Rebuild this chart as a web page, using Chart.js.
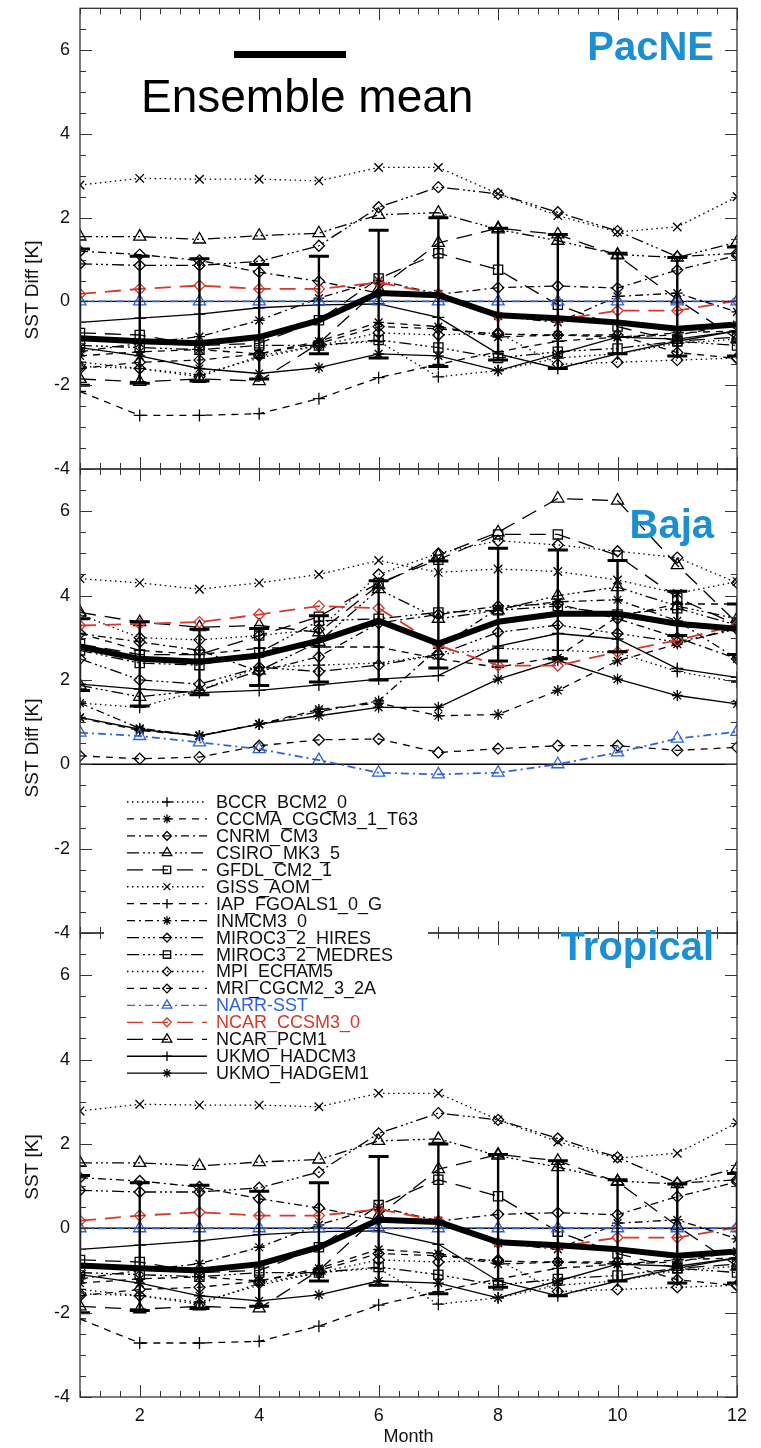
<!DOCTYPE html>
<html><head><meta charset="utf-8">
<script src="https://cdn.jsdelivr.net/npm/chart.js@4/dist/chart.umd.min.js"></script>
<style>
html,body{margin:0;padding:0;background:#fff;}
#wrap{position:relative;width:761px;height:1448px;overflow:hidden;}
canvas{position:absolute;left:0;top:0;}
</style></head><body>
<div id="wrap">
<canvas id="c1" width="761" height="1448"></canvas>
<canvas id="c2" width="761" height="1448"></canvas>
<canvas id="c3" width="761" height="1448"></canvas>
</div>
<script>
// ---------- data ----------
const months = [1,2,3,4,5,6,7,8,9,10,11,12];
const xTickVals = [2,4,6,8,10,12];
const yTickVals = [-4,-2,0,2,4,6];
const modelNames = ['BCCR_BCM2_0','CCCMA_CGCM3_1_T63','CNRM_CM3','CSIRO_MK3_5','GFDL_CM2_1','GISS_AOM',
  'IAP_FGOALS1_0_G','INMCM3_0','MIROC3_2_HIRES','MIROC3_2_MEDRES','MPI_ECHAM5','MRI_CGCM2_3_2A',
  'NARR-SST','NCAR_CCSM3_0','NCAR_PCM1','UKMO_HADCM3','UKMO_HADGEM1'];

// PacNE (also drawn in the Tropical panel, which shows the same curves)
const pacBCCR   = [-1.45,-1.6,-1.75,-1.35,-1.05,-0.95,-1.8,-1.65,-1.35,-1.25,-1.0,-0.9];
const pacCCCMA  = [-1.3,-1.2,-1.15,-1.25,-0.95,-0.5,-0.6,-0.85,-0.8,-0.85,-0.8,-0.55];
const pacCNRM   = [1.2,1.12,0.98,0.7,0.48,0.2,0.17,0.33,0.37,0.32,0.75,1.1];
const pacCSIRO  = [1.55,1.55,1.48,1.57,1.63,2.07,2.12,1.72,1.45,1.12,1.05,1.42];
const pacGFDL   = [-0.75,-0.8,-1.05,-1.0,-0.45,0.55,1.15,0.76,-0.08,-0.6,-0.95,-0.85];
const pacGISS   = [2.78,2.94,2.92,2.92,2.88,3.2,3.2,2.57,2.05,1.66,1.78,2.5];
const pacIAP    = [-2.15,-2.72,-2.72,-2.68,-2.32,-1.82,-1.5,-1.2,-0.95,-0.85,-0.75,-0.7];
const pacINMCM  = [-1.2,-1.0,-0.84,-0.45,0.08,0.5,0.18,-0.35,-0.5,0.12,0.2,-0.25];
const pacMIROCH = [0.9,0.86,0.86,0.96,1.33,2.25,2.73,2.57,2.13,1.68,1.07,1.15];
const pacMIROCM = [-1.05,-1.1,-1.15,-1.05,-1.05,-0.92,-1.1,-1.35,-1.2,-1.12,-0.95,-1.05];
const pacMPI    = [-1.55,-1.6,-1.8,-1.3,-1.05,-0.75,-0.8,-0.75,-1.5,-1.45,-1.4,-1.35];
const pacMRI    = [-1.6,-1.45,-1.4,-1.25,-1.0,-0.6,-0.65,-0.78,-0.8,-0.8,-1.22,-1.36];
const pacNARR   = [0,0,0,0,0,0,0,0,0,0,0,0];
const pacCCSM   = [0.18,0.3,0.38,0.3,0.3,0.45,0.18,-0.35,-0.44,-0.22,-0.22,0.02];
const pacPCM    = [-1.85,-1.92,-1.85,-1.9,-1.0,0.3,1.4,1.75,1.6,1.1,0.05,-0.9];
const pacHADCM3 = [-0.5,-0.4,-0.3,-0.15,-0.08,-0.06,-0.38,-1.25,-1.6,-1.25,-0.95,-0.7];
const pacHADGEM = [-1.1,-1.3,-1.6,-1.72,-1.58,-1.25,-1.3,-1.65,-1.25,-0.85,-0.9,-0.7];
const pacMean   = [-0.88,-0.95,-1.0,-0.85,-0.45,0.2,0.15,-0.33,-0.4,-0.5,-0.65,-0.55];
const pacUpper  = [1.25,1.08,1.02,0.88,1.08,1.7,2.0,1.75,1.6,1.15,1.05,1.3];
const pacLower  = [-2.0,-1.95,-1.9,-1.85,-1.25,-1.35,-1.55,-1.4,-1.6,-1.25,-1.3,-1.3];

// Baja
const bajBCCR   = [1.45,1.35,1.75,2.3,2.35,2.4,2.6,2.75,2.7,2.65,2.2,1.95];
const bajCCCMA  = [1.1,0.8,0.68,0.95,1.3,1.45,1.15,1.18,1.75,2.45,2.85,3.25];
const bajCNRM   = [3.1,2.9,2.7,2.2,2.55,3.35,3.55,3.75,3.8,3.45,3.0,2.5];
const bajCSIRO  = [1.87,1.6,1.75,2.22,2.9,4.15,3.45,3.65,4.0,4.2,3.75,3.45];
const bajGFDL   = [2.85,2.6,2.6,3.05,3.5,4.3,4.85,5.45,5.45,4.95,3.95,3.3];
const bajGISS   = [4.4,4.3,4.15,4.3,4.5,4.83,4.55,4.63,4.57,4.37,4.05,4.33];
const bajIAP    = [3.1,2.7,2.6,2.75,2.78,2.78,2.5,2.3,2.55,3.5,3.8,3.8];
const bajINMCM  = [1.45,0.85,0.68,0.95,1.25,1.5,2.75,3.7,3.85,3.9,3.4,2.5];
const bajMIROCH = [2.5,2.0,1.9,2.3,2.2,2.35,2.6,3.13,3.3,3.1,2.9,3.2];
const bajMIROCM = [2.7,2.4,2.35,2.65,3.4,3.45,3.6,3.65,3.75,3.55,3.7,3.3];
const bajMPI    = [3.55,3.0,2.95,3.05,3.2,4.5,5.0,5.3,5.2,5.05,4.9,4.3];
const bajMRI    = [0.2,0.13,0.17,0.44,0.58,0.6,0.28,0.37,0.44,0.44,0.33,0.4];
const bajNARR   = [0.75,0.67,0.52,0.36,0.1,-0.2,-0.24,-0.2,0.0,0.28,0.61,0.77];
const bajCCSM   = [3.29,3.33,3.37,3.55,3.75,3.7,2.82,2.34,2.34,2.66,2.94,3.3];
const bajPCM    = [3.6,3.37,3.25,3.29,3.13,4.25,4.95,5.5,6.3,6.25,4.72,3.35];
const bajHADCM3 = [1.9,1.78,1.7,1.75,1.88,2.02,2.1,2.8,3.1,2.97,2.27,2.06];
const bajHADGEM = [1.11,0.83,0.67,0.95,1.15,1.35,1.35,2.02,2.46,2.02,1.63,1.43];
const bajMean   = [2.79,2.5,2.43,2.58,2.93,3.4,2.86,3.38,3.57,3.57,3.33,3.21];
const bajUpper  = [3.45,3.38,3.2,3.22,3.52,4.35,4.82,5.12,5.08,4.83,4.1,3.8];
const bajLower  = [1.75,1.38,1.65,1.87,1.95,2.0,2.28,2.45,2.5,2.67,3.05,2.6];

const pacSeries = [pacBCCR,pacCCCMA,pacCNRM,pacCSIRO,pacGFDL,pacGISS,pacIAP,pacINMCM,pacMIROCH,pacMIROCM,pacMPI,pacMRI,pacNARR,pacCCSM,pacPCM,pacHADCM3,pacHADGEM];
const bajSeries = [bajBCCR,bajCCCMA,bajCNRM,bajCSIRO,bajGFDL,bajGISS,bajIAP,bajINMCM,bajMIROCH,bajMIROCM,bajMPI,bajMRI,bajNARR,bajCCSM,bajPCM,bajHADCM3,bajHADGEM];

// ---------- styles ----------
const FONT = "'Liberation Sans', Arial, Helvetica, sans-serif";
const BLUE = '#2f62d8', RED = '#d8372c', LABEL_BLUE = '#1b8fd2';
const DOT = [1.5,3.5], DASH = [7,6], DASHDOT = [8,4,2,4], DASH3 = [12,4,2,3,2,3,2,4], LONG = [16,9], SOLID = [];
const R = {cross:6, star:5.5, rectRot:5.5, triangle:7, rect:6.5, crossRot:6};
const modelStyles = [
  {dash:DOT, pt:'cross'}, {dash:DASH, pt:'star'}, {dash:DASHDOT, pt:'rectRot'}, {dash:DASH3, pt:'triangle'},
  {dash:LONG, pt:'rect'}, {dash:DOT, pt:'crossRot'}, {dash:DASH, pt:'cross'}, {dash:DASHDOT, pt:'star'},
  {dash:DASH3, pt:'rectRot'}, {dash:DASH3, pt:'rect'}, {dash:DOT, pt:'rectRot'}, {dash:DASH, pt:'rectRot'},
  {dash:DASHDOT, pt:'triangle', color:BLUE}, {dash:LONG, pt:'rectRot', color:RED}, {dash:LONG, pt:'triangle'},
  {dash:SOLID, pt:'cross'}, {dash:SOLID, pt:'star'}
];

function marker(ctx, style, r, x, y) {
  if (Chart.helpers && Chart.helpers.drawPoint) {
    Chart.helpers.drawPoint(ctx, {pointStyle: style, radius: r, rotation: 0, borderWidth: 1.3}, x, y);
  }
}

const decor = {
  id: 'decor',
  beforeDatasetsDraw(chart, args, o) {
    const {ctx, chartArea: a, scales: {y}} = chart;
    const py = y.getPixelForValue(0);
    ctx.save(); ctx.strokeStyle = '#000'; ctx.lineWidth = 1.3; ctx.setLineDash([]);
    ctx.beginPath(); ctx.moveTo(a.left, py); ctx.lineTo(a.right, py); ctx.stroke(); ctx.restore();
  },
  afterDatasetsDraw(chart, args, o) {
    const {ctx, chartArea: a, scales: {x, y}} = chart;
    ctx.save();
    ctx.beginPath(); ctx.rect(a.left, a.top, a.right - a.left, a.bottom - a.top); ctx.clip();
    ctx.strokeStyle = '#000'; ctx.setLineDash([]);
    months.forEach((m, j) => {
      const px = x.getPixelForValue(m), pu = y.getPixelForValue(o.upper[j]), pl = y.getPixelForValue(o.lower[j]);
      ctx.lineWidth = 2.4; ctx.beginPath(); ctx.moveTo(px, pu); ctx.lineTo(px, pl); ctx.stroke();
      ctx.lineWidth = 3; ctx.beginPath();
      ctx.moveTo(px - 10, pu); ctx.lineTo(px + 10, pu); ctx.moveTo(px - 10, pl); ctx.lineTo(px + 10, pl); ctx.stroke();
    });
    ctx.restore();
  },
  afterDraw(chart, args, o) {
    const {ctx, chartArea: a, scales: {x, y}} = chart;
    ctx.save();
    ctx.setLineDash([]);
    ctx.strokeStyle = '#333'; ctx.lineWidth = 1.3;
    ctx.strokeRect(a.left, a.top, a.right - a.left, a.bottom - a.top);
    ctx.lineWidth = 1;
    ctx.beginPath();
    for (let k = 0; k <= 22; k++) {
      const v = y.min + k * 0.5;
      const py = Math.round(y.getPixelForValue(v)) + 0.5;
      const L = (yTickVals.includes(v)) ? 12 : 6;
      ctx.moveTo(a.left, py); ctx.lineTo(a.left + L, py);
      ctx.moveTo(a.right, py); ctx.lineTo(a.right - L, py);
    }
    for (let k = 0; k <= 33; k++) {
      const v = 1 + k / 3;
      const px = Math.round(x.getPixelForValue(v)) + 0.5;
      const L = (k % 3 === 0 && xTickVals.includes(Math.round(v))) ? 12 : 6;
      ctx.moveTo(px, a.top); ctx.lineTo(px, a.top + L);
      ctx.moveTo(px, a.bottom); ctx.lineTo(px, a.bottom - L);
    }
    ctx.stroke();
    // y title
    ctx.fillStyle = '#111';
    ctx.font = '19px ' + FONT;
    ctx.textAlign = 'center'; ctx.textBaseline = 'middle';
    ctx.save(); ctx.translate(33, o.titleY); ctx.rotate(-Math.PI / 2); ctx.fillText(o.yTitle, 0, 0); ctx.restore();
    // panel name
    ctx.fillStyle = LABEL_BLUE; ctx.font = 'bold 40px ' + FONT;
    ctx.textAlign = 'right'; ctx.textBaseline = 'alphabetic';
    ctx.fillText(o.name, 714, o.nameY);
    if (o.ensemble) {
      ctx.fillStyle = '#000';
      ctx.fillRect(234, 51, 112, 7);
      ctx.font = '46px ' + FONT; ctx.textAlign = 'left';
      ctx.fillText('Ensemble mean', 141, 112);
    }
    if (o.legend) {
      ctx.fillStyle = '#fff';
      ctx.fillRect(104, 786, 324, 292);
      modelNames.forEach((name, i) => {
        const st = modelStyles[i];
        const col = st.color || '#000';
        const ly = 802 + i * 16.95;
        ctx.strokeStyle = col; ctx.lineWidth = 1.3;
        ctx.setLineDash(st.dash);
        ctx.beginPath(); ctx.moveTo(127, ly); ctx.lineTo(207, ly); ctx.stroke();
        ctx.setLineDash([]);
        ctx.fillStyle = 'rgba(0,0,0,0)';
        marker(ctx, st.pt, R[st.pt] * 0.8, 167, ly);
        ctx.fillStyle = st.color || '#111';
        ctx.font = '18px ' + FONT; ctx.textAlign = 'left'; ctx.textBaseline = 'middle';
        ctx.fillText(name, 216, ly + 1);
      });
    }
    ctx.restore();
  }
};

function makePanel(id, series, mean, upper, lower, p) {
  const datasets = series.map((vals, i) => {
    const st = modelStyles[i];
    const col = st.color || '#000';
    return {
      label: modelNames[i],
      data: months.map((m, j) => ({x: m, y: vals[j]})),
      borderColor: col, borderWidth: st.color ? 1.8 : 1.3, borderDash: st.dash,
      pointStyle: st.pt, pointRadius: R[st.pt], pointHoverRadius: R[st.pt],
      pointBorderColor: col, pointBackgroundColor: 'rgba(0,0,0,0)', pointBorderWidth: 1.3,
      tension: 0, fill: false, order: st.color ? 1 : 2
    };
  });
  datasets.push({
    label: 'Ensemble mean', data: months.map((m, j) => ({x: m, y: mean[j]})),
    borderColor: '#000', borderWidth: 6, pointRadius: 0, tension: 0, fill: false, order: 0,
    borderJoinStyle: 'round'
  });
  return new Chart(document.getElementById(id), {
    type: 'line',
    data: {datasets},
    plugins: [decor],
    options: {
      responsive: false, animation: false, devicePixelRatio: 1, events: [],
      layout: {padding: {left: 0, right: 24, top: p.top, bottom: p.bottom}},
      plugins: {
        legend: {display: false}, tooltip: {enabled: false},
        decor: {upper, lower, yTitle: p.yTitle, titleY: p.titleY, name: p.name, nameY: p.nameY, ensemble: p.ensemble, legend: p.legend}
      },
      scales: {
        x: {
          type: 'linear', min: 1, max: 12, display: p.showX,
          afterBuildTicks: s => { s.ticks = xTickVals.map(v => ({value: v})); },
          afterFit: s => { s.height = p.showX ? 51 : 0; s.paddingLeft = 0; s.paddingRight = 0; },
          ticks: {font: {family: FONT, size: 18}, color: '#111', padding: 8, maxRotation: 0, autoSkip: false},
          title: {display: true, text: 'Month', font: {family: FONT, size: 18}, color: '#111', padding: {top: 0, bottom: 0}},
          grid: {display: false, drawTicks: false}, border: {display: false}
        },
        y: {
          type: 'linear', min: -4, max: 7,
          afterBuildTicks: s => { s.ticks = yTickVals.map(v => ({value: v})); },
          afterFit: s => { s.width = 80; s.paddingTop = 0; s.paddingBottom = 0; },
          ticks: {font: {family: FONT, size: 18}, color: '#111', padding: 10, callback: v => String(v)},
          grid: {display: false, drawTicks: false}, border: {display: false}
        }
      }
    }
  });
}

makePanel('c1', pacSeries, pacMean, pacUpper, pacLower,
  {top: 8, bottom: 1448 - 469, showX: false, yTitle: 'SST Diff [K]', titleY: 290, name: 'PacNE', nameY: 60, ensemble: true});
makePanel('c2', bajSeries, bajMean, bajUpper, bajLower,
  {top: 469, bottom: 1448 - 933, showX: false, yTitle: 'SST Diff [K]', titleY: 748, name: 'Baja', nameY: 538});
makePanel('c3', pacSeries, pacMean, pacUpper, pacLower,
  {top: 933, bottom: 0, showX: true, yTitle: 'SST [K]', titleY: 1167, name: 'Tropical', nameY: 960, legend: true});
</script>
</body></html>
